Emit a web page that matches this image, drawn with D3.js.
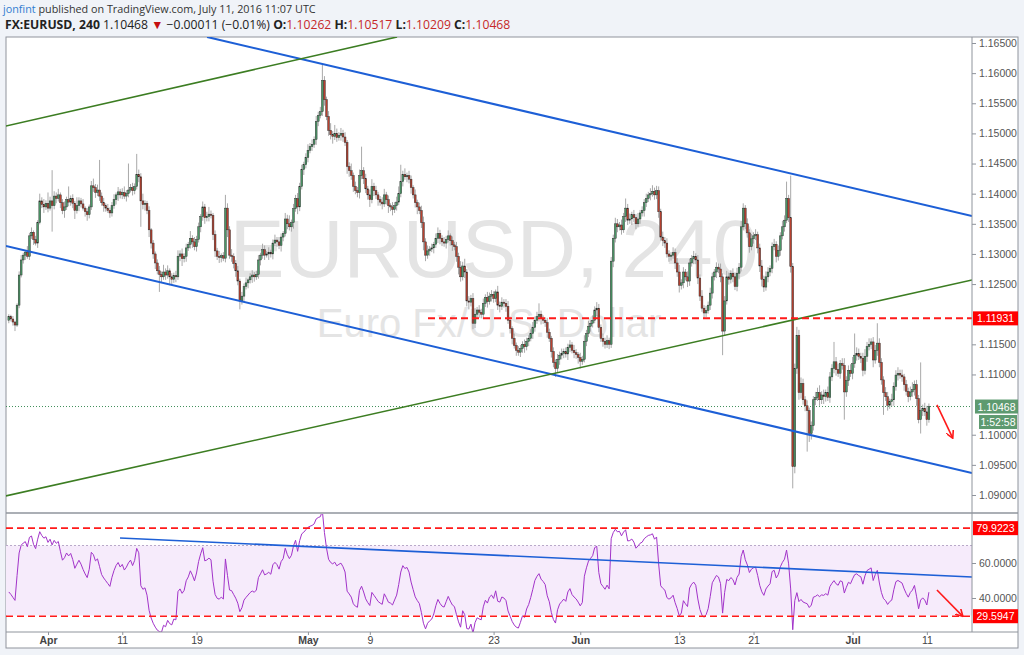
<!DOCTYPE html>
<html><head><meta charset="utf-8">
<script src="https://cdn.jsdelivr.net/npm/d3@7"></script>
<style>
html,body{margin:0;padding:0;background:#f0f3f8;}
svg{display:block;}
</style></head>
<body>
<svg id="c" width="1024" height="655"></svg>
<script>
// ---------------- DATA ----------------
// 4h closes, in pips above 1.1000 (value = 1.1 + c/10000)
const closes = [
196,192,187,182,215,265,290,298,303,296,
330,336,324,318,352,388,382,378,384,376,
388,380,396,392,398,385,372,378,390,386,
392,384,372,380,388,383,376,370,365,378,
413,410,402,406,396,385,380,376,372,368,
380,390,398,403,398,402,396,400,406,410,
405,412,432,428,388,382,384,372,340,318,
300,285,272,266,262,270,265,272,262,258,
264,262,296,300,292,296,310,316,326,320,
312,324,345,362,378,360,362,366,364,332,
305,296,294,297,293,376,340,298,296,284,
272,255,222,230,246,252,257,262,265,262,
266,290,298,307,298,300,303,300,318,323,
320,314,328,334,358,350,345,352,375,392,
378,412,440,448,460,472,478,482,490,520,
530,536,588,556,528,505,498,495,500,493,
497,500,494,485,445,438,430,412,405,402,
430,438,425,408,398,390,412,405,398,390,
386,383,398,390,380,378,374,380,386,400,
420,432,428,430,424,410,398,385,378,372,
352,320,298,305,308,310,316,326,334,326,
320,318,324,330,322,315,312,296,278,262,
280,270,222,220,226,185,200,207,203,200,
218,228,221,230,233,226,237,215,213,220,
218,213,190,176,160,148,140,137,143,150,
146,155,160,168,178,190,196,200,193,190,
186,170,160,138,120,110,125,132,135,138,
134,145,149,140,136,133,128,122,125,155,
168,180,185,190,207,210,178,160,155,150,
156,150,288,326,350,345,348,340,362,376,
356,358,365,360,350,358,368,372,385,392,
398,400,404,398,405,370,328,322,318,300,
296,298,302,285,270,248,252,270,262,255,
285,292,296,290,260,230,210,202,206,215,
235,262,270,278,275,262,172,222,262,258,
268,262,246,268,278,345,376,350,335,312,
325,330,332,310,280,258,245,262,270,276,
312,316,296,306,330,345,356,392,360,279,
-53,110,165,70,85,58,48,40,2,15,
58,62,70,58,66,63,70,62,96,110,
121,108,102,118,115,71,90,107,102,118,
132,135,130,127,107,130,146,150,154,124,
140,152,120,91,70,63,49,55,58,80,
99,102,99,96,83,72,63,71,75,83,
60,25,40,44,38,25,46.8
];
// upper wick length (pips above body top)
const wickUp = [
4,3,5,2,3,6,8,4,3,10, 5,8,3,6,4,12,6,9,5,18, 7,51,8,6,10,4,6,9,5,22, 5,7,4,14,6,5,8,3,6,4,
8,12,6,9,50,6,8,4,7,5, 6,9,4,8,5,7,10,6,44,6, 8,5,34,8,6,12,5,4,7,3, 5,4,6,8,5,12,6,9,4,6,
5,8,10,6,9,5,7,4,12,5, 8,6,7,4,9,5,8,12,6,4, 7,5,9,4,6,22,8,6,10,5, 6,8,4,7,5,9,4,6,8,5,
6,8,4,10,7,5,8,4,6,9, 5,8,6,4,10,7,14,5,8,6, 9,6,8,5,7,10,6,8,5,9, 6,8,26,7,5,9,12,6,14,8,
5,9,6,8,4,7,12,5,8,6, 10,40,6,8,5,9,12,6,8,5, 6,8,10,5,7,4,8,6,9,12, 28,6,10,5,8,6,4,9,5,7,
8,10,6,9,5,7,4,8,10,6, 5,8,6,9,4,7,5,8,6,10, 7,12,5,8,6,9,10,5,8,6, 8,5,9,6,7,5,4,10,6,8,
5,7,9,6,4,8,5,7,6,5, 8,6,5,7,9,6,8,18,6,5, 5,8,6,4,7,5,9,6,8,5, 7,6,8,5,9,6,4,8,6,10,
6,9,5,8,6,10,7,5,8,6, 9,5,7,6,10,8,5,9,6,16, 7,9,5,8,6,10,5,7,6,8, 5,9,10,6,8,7,5,9,6,8,
6,5,9,7,8,12,6,8,5,9, 7,6,9,5,8,6,10,5,8,6, 9,7,5,8,6,9,6,8,10,7, 5,8,6,9,7,10,8,5,9,6,
8,6,9,5,7,10,6,9,8,5, 7,9,5,8,6,10,8,28,6,70, 6,8,14,9,10,8,6,9,5,7, 6,9,8,12,6,9,5,10,8,7,
33,8,10,6,9,12,7,8,10,11, 36,10,8,6,9,12,8,10,6,8, 9,33,8,7,6,9,8,5,10,7, 8,10,6,9,5,8,6,9,12,7,
8,6,80,6,9,10,5
];
// lower wick length (pips below body bottom)
const wickDn = [
5,4,6,10,3,5,4,6,8,4, 6,5,9,4,8,3,6,10,5,7, 4,43,6,8,5,9,6,12,5,7, 6,8,14,5,9,6,4,8,10,6,
5,7,9,6,8,5,10,6,4,8, 6,5,8,10,6,7,5,9,6,4, 8,6,5,9,43,8,10,6,12,9, 8,10,6,29,9,5,8,6,14,10,
6,9,5,8,12,6,9,5,7,10, 6,8,5,9,7,10,6,8,5,9, 10,6,9,8,5,7,12,6,9,8, 10,7,14,6,8,5,9,6,10,8,
5,7,9,6,8,4,10,6,9,5, 8,6,10,7,5,9,6,8,10,5, 12,7,5,9,6,8,5,7,6,9, 8,5,7,10,6,9,8,12,6,7,
5,9,8,6,12,10,7,9,6,8, 10,6,9,7,8,12,6,9,7,10, 6,9,5,8,12,7,10,6,8,5, 6,8,5,9,7,10,6,8,12,6,
9,14,10,6,8,5,9,6,8,10, 7,6,9,5,8,10,6,9,12,8, 6,10,9,12,7,10,8,6,9,7, 8,6,10,5,9,7,6,8,10,6,
7,9,6,8,10,5,9,6,8,7, 10,6,8,5,9,7,6,8,10,6, 7,9,6,10,8,14,6,9,7,8, 6,10,8,5,9,7,10,12,6,5,
8,6,9,7,5,10,8,6,9,7, 6,8,6,10,7,9,6,8,5,9, 8,6,10,7,9,5,8,6,10,7, 6,9,5,8,7,10,6,9,8,6,
9,7,6,10,8,12,7,9,6,10, 8,6,9,7,10,8,6,9,7,5, 8,9,6,10,7,9,40,8,6,9, 7,9,6,8,10,7,6,9,8,10,
6,8,7,9,10,12,8,6,9,7, 8,6,10,7,9,6,8,5,7,10, 36,11,9,12,10,8,9,68,14,10, 8,9,6,10,7,12,8,6,9,7,
8,10,6,9,7,46,8,9,6,10, 7,9,6,8,10,7,9,6,8,12, 6,9,8,8,37,7,9,6,8,10, 7,9,6,8,10,7,9,6,8,10,
12,6,23,9,7,10,5
];
// closes before the first visible bar (RSI warm-up only)
const seedCloses = [1.1215,1.1205,1.1190,1.1180,1.1175,1.1185,1.1170,1.1178,1.1168,1.1180,1.1190,1.1185,1.1195,1.1200,1.1190];

const priceTicks = [1.09,1.095,1.10,1.105,1.11,1.115,1.12,1.125,1.13,1.135,1.14,1.145,1.15,1.155,1.16,1.165];
const rsiTicks = [40, 60];
const dateTickIdx = [19,55,91,145,175,235,277,325,361,409,445];
const dateTickLbl = ["Apr","11","19","May","9","23","Jun","13","21","Jul","11"];
const monthLbls = ["Apr","May","Jun","Jul"];

// drawn tools (bar index, price)
const blueUpper = [[96.1,1.16600],[466.9,1.13630]];
const blueLower = [[-1.4,1.13132],[466.9,1.09365]];
const greenUpper = [[-1.4,1.15123],[188.2,1.16600]];
const greenLower = [[-1.4,1.08984],[466.9,1.12568]];
const hLevel = 1.11931, hLevelStart = 203.2;
const arrowMain = [[449.9,1.10494],[457.4,1.09955]];
const rsiLine = [[53.9,74.3],[466.9,52.0]];
const rsiArrow = [[449.9,44.6],[462.2,29.8]];
const rsiLevels = [79.9223, 29.5947];
const lastPrice = 1.10468;

// ---------------- LAYOUT ----------------
const L = 6, R = 972, FR = 1018, MT = 37, MB = 512, RT = 514, RB = 632, XB = 648;
const svg = d3.select("#c");
const x = d3.scaleLinear().domain([0, 446]).range([8.8, 928.9]);
const y = d3.scaleLinear().domain([1.09, 1.165]).range([495, 43]);
const yr = d3.scaleLinear().domain([40, 60]).range([598, 563]);

const bars = closes.map((c, i) => {
  const close = 1.1 + c / 1e4;
  const open = i === 0 ? seedCloses[seedCloses.length - 1] : 1.1 + closes[i - 1] / 1e4;
  const hi = Math.max(open, close) + wickUp[i] / 1e4;
  const lo = Math.min(open, close) - wickDn[i] / 1e4;
  return {i, open, close, hi, lo};
});

// RSI(14) Wilder
const all = seedCloses.concat(bars.map(b => b.close));
const n = 14;
let ag = 0, al = 0;
for (let k = 1; k <= n; k++) { const d = all[k] - all[k-1]; if (d > 0) ag += d; else al -= d; }
ag /= n; al /= n;
const rsiAll = [];
for (let k = n + 1; k < all.length; k++) {
  const d = all[k] - all[k-1];
  ag = (ag * (n - 1) + Math.max(d, 0)) / n;
  al = (al * (n - 1) + Math.max(-d, 0)) / n;
  rsiAll[k] = al === 0 ? 100 : 100 - 100 / (1 + ag / al);
}
const rsi = bars.map((b, i) => ({i, v: rsiAll[i + seedCloses.length]}));

// ---------------- FRAME ----------------
svg.append("rect").attr("x", L).attr("y", MT).attr("width", FR - L).attr("height", XB - MT)
  .attr("fill", "#fff").attr("stroke", "#8f949c").attr("stroke-width", 1);

const defs = svg.append("defs");
defs.append("clipPath").attr("id", "cm").append("rect").attr("x", L).attr("y", MT).attr("width", R - L).attr("height", MB - MT);
defs.append("clipPath").attr("id", "cr").append("rect").attr("x", L).attr("y", RT).attr("width", R - L).attr("height", RB - RT);
defs.append("marker").attr("id", "ah").attr("viewBox", "0 0 10 10").attr("refX", 8).attr("refY", 5)
  .attr("markerWidth", 5).attr("markerHeight", 5).attr("orient", "auto-start-reverse")
  .append("path").attr("d", "M0,0 L9,5 L0,10").attr("fill", "none").attr("stroke", "#ff1a1a").attr("stroke-width", 2);

// header
const hdr = svg.append("g").attr("font-family", "'Open Sans', 'Noto Sans', sans-serif");
const h1 = hdr.append("text").attr("x", 3).attr("y", 13).attr("fill", "#333").attr("font-size", 10.8);
h1.append("tspan").attr("fill", "#2f7bd0").text("jonfint");
h1.append("tspan").text(" published on TradingView.com, July 11, 2016 11:07 UTC");
const h2 = hdr.append("text").attr("x", 5).attr("y", 29).attr("fill", "#222").attr("font-size", 12.2);
h2.append("tspan").attr("font-weight", "bold").text("FX:EURUSD, 240");
h2.append("tspan").text(" 1.10468 ");
h2.append("tspan").attr("fill", "#c40f0f").text("▼");
h2.append("tspan").text(" −0.00011 (−0.01%) ");
[["O:","1.10262"],["H:","1.10517"],["L:","1.10209"],["C:","1.10468"]].forEach(([k, v], j) => {
  h2.append("tspan").attr("font-weight", "bold").text((j ? " " : "") + k);
  h2.append("tspan").attr("fill", "#c62828").text(v);
});

// watermark
const wm = svg.append("g").attr("font-family", "'Liberation Sans', Arial, sans-serif").attr("fill", "#e4e4e4").attr("text-anchor", "middle");
wm.append("text").attr("x", 494).attr("y", 277).attr("font-size", 82).text("EURUSD, 240");
wm.append("text").attr("x", 489).attr("y", 337).attr("font-size", 40).text("Euro Fx/U.S. Dollar");

// ---------------- MAIN PANE ----------------
const gm = svg.append("g").attr("clip-path", "url(#cm)");
const line = d3.line().x(d => x(d[0])).y(d => y(d[1]));
// last price dotted
gm.append("line").attr("x1", L).attr("x2", R).attr("y1", y(lastPrice)).attr("y2", y(lastPrice))
  .attr("stroke", "#3f8f5a").attr("stroke-dasharray", "1,2").attr("stroke-width", 1);

// candles
const cg = gm.append("g");
cg.selectAll("line.w").data(bars).join("line").attr("class", "w")
  .attr("x1", d => x(d.i)).attr("x2", d => x(d.i)).attr("y1", d => y(d.hi)).attr("y2", d => y(d.lo))
  .attr("stroke", "#a9a9a9").attr("stroke-width", 1);
cg.selectAll("rect").data(bars).join("rect")
  .attr("x", d => x(d.i) - 0.9).attr("width", 1.8)
  .attr("y", d => y(Math.max(d.open, d.close)))
  .attr("height", d => Math.max(0.8, Math.abs(y(d.open) - y(d.close))))
  .attr("fill", d => d.close >= d.open ? "#4a9766" : "#b8412f")
  .attr("stroke", "#2b2b2b").attr("stroke-width", 0.45);

// trend lines
[[blueUpper, "#1d5fd6", 2], [blueLower, "#1d5fd6", 2], [greenUpper, "#3c7d22", 1.6], [greenLower, "#3c7d22", 1.6]]
  .forEach(([seg, col, w]) => gm.append("path").attr("d", line(seg)).attr("fill", "none").attr("stroke", col).attr("stroke-width", w));
// horizontal level
gm.append("line").attr("x1", x(hLevelStart)).attr("x2", R).attr("y1", y(hLevel)).attr("y2", y(hLevel))
  .attr("stroke", "#ff1a1a").attr("stroke-width", 2).attr("stroke-dasharray", "7,4");
// arrow
gm.append("path").attr("d", line(arrowMain)).attr("stroke", "#ff1a1a").attr("stroke-width", 1.6).attr("fill", "none").attr("marker-end", "url(#ah)");

// ---------------- RSI PANE ----------------
const gr = svg.append("g").attr("clip-path", "url(#cr)");
gr.append("rect").attr("x", L).attr("width", R - L).attr("y", yr(70)).attr("height", yr(30) - yr(70)).attr("fill", "#f6ebfb");
gr.append("line").attr("x1", L).attr("x2", R).attr("y1", yr(70)).attr("y2", yr(70)).attr("stroke", "#b9a9c9").attr("stroke-dasharray", "2,2");
gr.append("path").datum(rsi).attr("d", d3.line().x(d => x(d.i)).y(d => yr(d.v)))
  .attr("fill", "none").attr("stroke", "#a233c9").attr("stroke-width", 1);
rsiLevels.forEach(v => gr.append("line").attr("x1", L).attr("x2", R).attr("y1", yr(v)).attr("y2", yr(v))
  .attr("stroke", "#ff1a1a").attr("stroke-width", 1.6).attr("stroke-dasharray", "7,4"));
const lineR = d3.line().x(d => x(d[0])).y(d => yr(d[1]));
gr.append("path").attr("d", lineR(rsiLine)).attr("stroke", "#1d5fd6").attr("stroke-width", 1.6).attr("fill", "none");
gr.append("path").attr("d", lineR(rsiArrow)).attr("stroke", "#ff1a1a").attr("stroke-width", 1.6).attr("fill", "none").attr("marker-end", "url(#ah)");

// separators & axes lines
svg.append("line").attr("x1", L).attr("x2", FR).attr("y1", 513).attr("y2", 513).attr("stroke", "#8f949c").attr("stroke-width", 1.5);
svg.append("line").attr("x1", L).attr("x2", FR).attr("y1", RB).attr("y2", RB).attr("stroke", "#8f949c").attr("stroke-width", 1);
svg.append("line").attr("x1", R).attr("x2", R).attr("y1", MT).attr("y2", RB).attr("stroke", "#8f949c").attr("stroke-width", 1);

// right axes
const axF = "'Liberation Sans', Arial, sans-serif";
const fmt5 = d3.format(".5f"), fmt4 = d3.format(".4f");
const hidden = [1.12, 1.105];
const gy = svg.append("g").attr("transform", `translate(${R},0)`)
  .call(d3.axisRight(y).tickValues(priceTicks.filter(t => !hidden.some(h => Math.abs(h - t) < 1e-9))).tickFormat(fmt5).tickSize(4).tickPadding(3));
gy.select(".domain").remove();
gy.selectAll("line").attr("stroke", "#8f949c");
gy.selectAll("text").attr("font-family", axF).attr("font-size", 10.5).attr("fill", "#555");
const gyr = svg.append("g").attr("transform", `translate(${R},0)`)
  .call(d3.axisRight(yr).tickValues(rsiTicks).tickFormat(fmt4).tickSize(4).tickPadding(3));
gyr.select(".domain").remove();
gyr.selectAll("line").attr("stroke", "#8f949c");
gyr.selectAll("text").attr("font-family", axF).attr("font-size", 10.5).attr("fill", "#555");

function tag(yy, txt, col, x0, w) {
  svg.append("rect").attr("x", x0).attr("y", yy - 7).attr("width", w).attr("height", 14).attr("fill", col);
  svg.append("text").attr("x", x0 + w / 2).attr("y", yy + 4).attr("text-anchor", "middle").attr("font-family", axF)
    .attr("font-size", 10.5).attr("fill", "#fff").text(txt);
}
tag(y(hLevel), fmt5(hLevel), "#ff0000", R + 1, FR - R - 1);
tag(y(lastPrice), fmt5(lastPrice), "#5e9a70", R + 3, FR - R - 3);
tag(y(lastPrice) + 15.5, "1:52:58", "#5e9a70", R + 7, FR - R - 8);
rsiLevels.forEach(v => tag(yr(v), fmt4(v), "#ff0000", R + 1, FR - R - 1));

// bottom axis
const xa = svg.append("g").attr("transform", `translate(0,${RB})`)
  .call(d3.axisBottom(x).tickValues(dateTickIdx).tickFormat((d, k) => dateTickLbl[k]).tickSize(3).tickPadding(2));
xa.select(".domain").remove();
xa.selectAll("line").attr("stroke", "#8f949c");
xa.selectAll("text").attr("font-family", axF).attr("font-size", 10.5).attr("fill", "#444")
  .attr("font-weight", (d, k) => monthLbls.includes(dateTickLbl[k]) ? "bold" : "normal");
</script>
</body></html>
